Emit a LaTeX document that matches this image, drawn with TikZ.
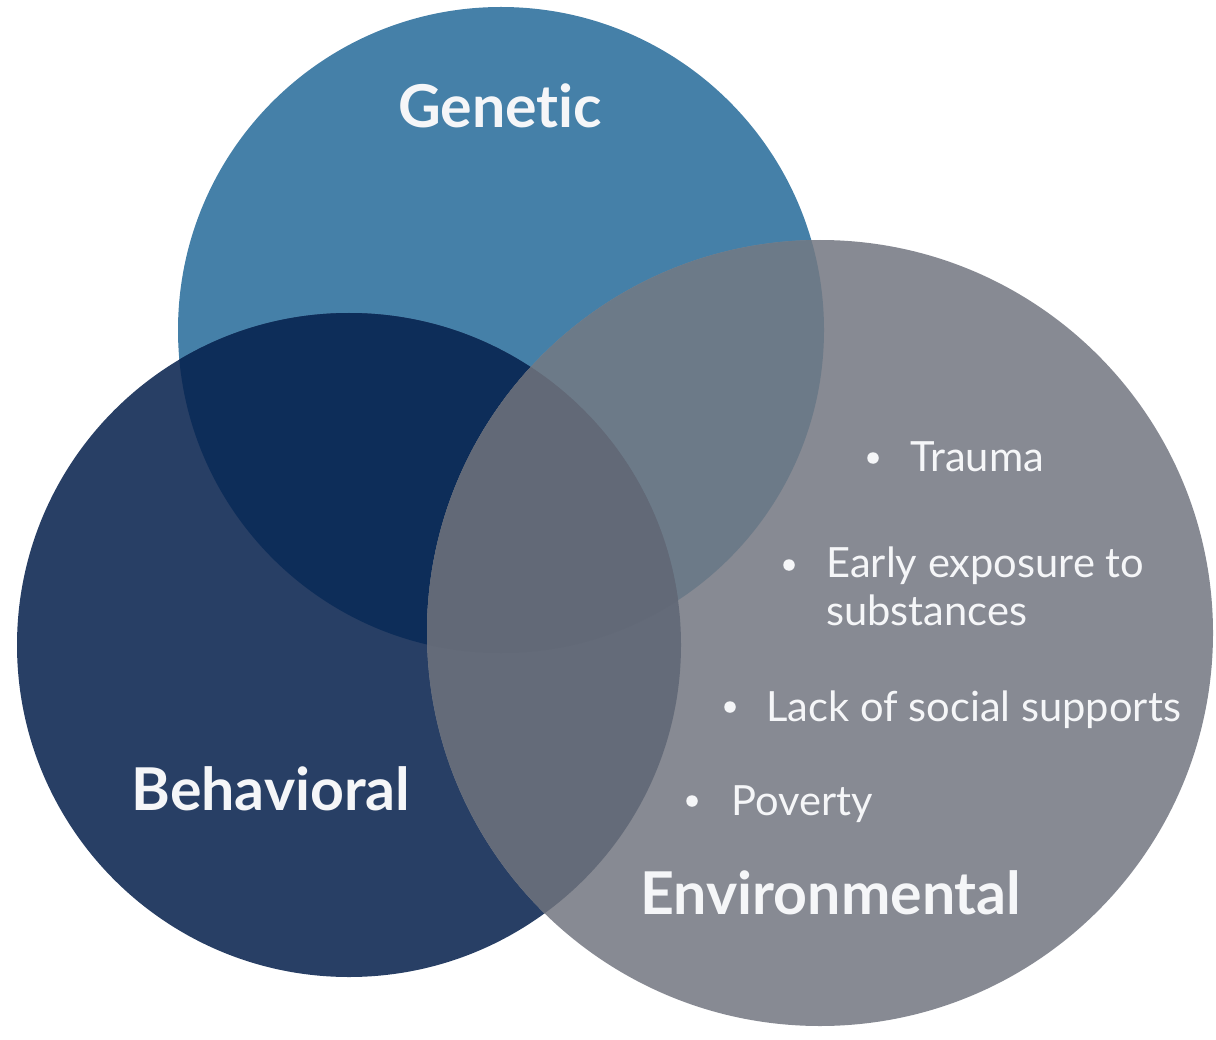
\documentclass[tikz,border=0pt]{standalone}
\usepackage{fontspec}
\setmainfont{Lato}[Ligatures=NoCommon]

\definecolor{genblue}{HTML}{4580A8}
\definecolor{behnavy}{HTML}{283F65}
\definecolor{genbeh}{HTML}{0D2D59}
\definecolor{envgrey}{HTML}{878A93}
\definecolor{envgen}{HTML}{6C7A88}
\definecolor{envbeh}{HTML}{646B79}
\definecolor{allthree}{HTML}{626977}
\definecolor{textwhite}{HTML}{F5F6F8}

\begin{document}
\begin{tikzpicture}[x=0.02cm,y=-0.02cm]

    \tikzset{titlestyle/.style={anchor=base,inner sep=0,text=textwhite,font=\fontsize{33.6}{40}\selectfont\bfseries}}
    \tikzset{itemstyle/.style={anchor=base west,inner sep=0,text=textwhite,font=\fontsize{23.7}{28}\selectfont}}
    \tikzset{dotstyle/.style={circle,fill=textwhite,inner sep=0,minimum size=0.23cm}}

    \useasboundingbox (0,0) rectangle (1216,1040);

    \coordinate (gen) at (501,330);
    \coordinate (beh) at (349,645);
    \coordinate (env) at (820,633);

    % the three circles, overlaps filled one by one
    \fill[genblue] (gen) circle[radius=323];
    \fill[behnavy] (beh) circle[radius=332];
    \begin{scope}
        \clip (gen) circle[radius=323];
        \fill[genbeh] (beh) circle[radius=332];
    \end{scope}
    \fill[envgrey] (env) circle[radius=393];
    \begin{scope}
        \clip (env) circle[radius=393];
        \fill[envgen] (gen) circle[radius=323];
        \fill[envbeh] (beh) circle[radius=332];
        \clip (gen) circle[radius=323];
        \fill[allthree] (beh) circle[radius=332];
    \end{scope}

    \node[titlestyle] (genetic) at (500,128) {Genetic};
    \node[titlestyle] (behavioral) at (271,810) {Behavioral};
    \node[titlestyle] (environmental) at (831,914) {Environmental};

    \node[dotstyle] (d1) at (873,458) {};
    \node[itemstyle] (trauma) at (910,471) {Trauma};
    \node[dotstyle] (d2) at (789,565) {};
    \node[itemstyle] (early) at (826,577) {Early exposure to};
    \node[itemstyle] (subst) at (826,625) {substances};
    \node[dotstyle] (d3) at (730,707) {};
    \node[itemstyle] (lack) at (766,721) {Lack of social supports};
    \node[dotstyle] (d4) at (692,801) {};
    \node[itemstyle] (poverty) at (731,815) {Poverty};
\end{tikzpicture}
\end{document}
